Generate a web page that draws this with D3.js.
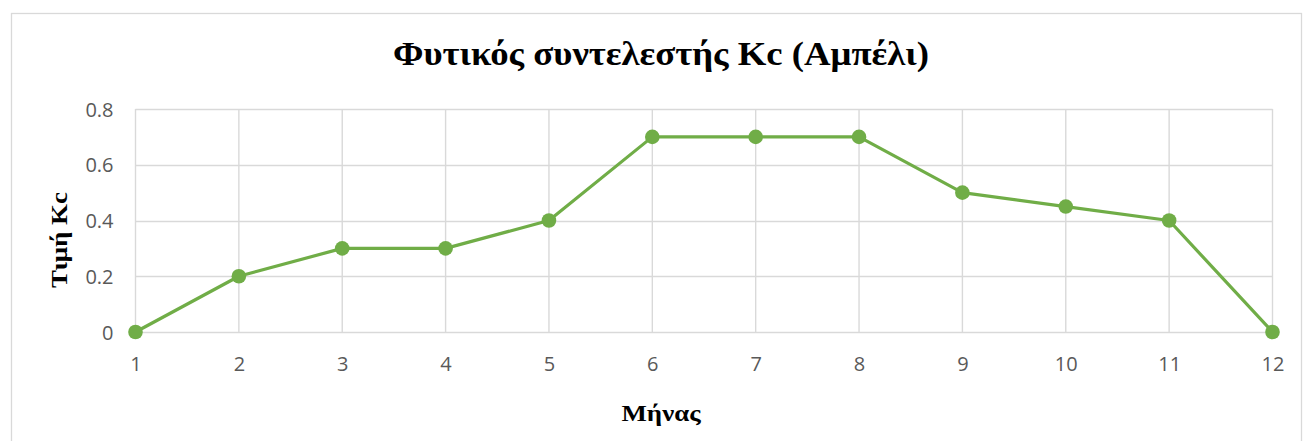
<!DOCTYPE html>
<html><head><meta charset="utf-8">
<script src="https://cdn.jsdelivr.net/npm/d3@7"></script>
<style>body{margin:0;background:#fff}svg{display:block}</style>
</head><body>
<svg id="c" width="1303" height="441"></svg>
<script>
const months = [1,2,3,4,5,6,7,8,9,10,11,12];
const kcValues = [0,0.2,0.3,0.3,0.4,0.7,0.7,0.7,0.5,0.45,0.4,0];
const yTicks = [0,0.2,0.4,0.6,0.8];
const titleText = "Φυτικός συντελεστής Kc (Αμπέλι)";
const xTitle = "Μήνας";
const yTitle = "Τιμή Kc";

const svg = d3.select("#c");
svg.append("rect").attr("x",11.5).attr("y",13.5).attr("width",1290).attr("height",440)
  .attr("fill","#fff").attr("stroke","#d9d9d9").attr("stroke-width",1.3);

const x = d3.scalePoint().domain(months).range([135.5,1272.5]);
const y = d3.scaleLinear().domain([0,0.8]).range([332,109]);

const grid = svg.append("g");
grid.selectAll("line.h").data(yTicks).join("line")
  .attr("x1",135.5).attr("x2",1272.5).attr("y1",d=>Math.round(y(d))+0.5).attr("y2",d=>Math.round(y(d))+0.5)
  .attr("stroke","#d9d9d9").attr("stroke-width",1.4);
grid.selectAll("line.v").data(months).join("line")
  .attr("x1",d=>x(d)).attr("x2",d=>x(d)).attr("y1",109).attr("y2",332)
  .attr("stroke","#d9d9d9").attr("stroke-width",1.4);

const tickFont = "Open Sans, Liberation Sans, sans-serif";
const yAxis = d3.axisLeft(y).tickValues(yTicks).tickSize(0).tickPadding(22).tickFormat(d=>d===0?"0":d3.format(".1f")(d));
const ga = svg.append("g").attr("transform","translate(135.5,0)").call(yAxis);
ga.select(".domain").remove();
ga.selectAll("text").attr("font-family",tickFont).attr("font-size",20).attr("fill","#595959").attr("dy","0.36em");

const xAxis = d3.axisBottom(x).tickSize(0);
const gx = svg.append("g").attr("transform","translate(0,332)").call(xAxis);
gx.select(".domain").remove();
gx.selectAll("text").attr("font-family",tickFont).attr("font-size",20).attr("fill","#595959")
  .attr("y",39).attr("dy",0);

const line = d3.line().x((d,i)=>x(months[i])).y(d=>y(d));
svg.append("path").datum(kcValues).attr("d",line).attr("fill","none")
  .attr("stroke","#70ad47").attr("stroke-width",3.2).attr("stroke-linejoin","round");
svg.selectAll("circle.m").data(kcValues).join("circle")
  .attr("cx",(d,i)=>x(months[i])).attr("cy",d=>y(d)).attr("r",7.3).attr("fill","#70ad47");

const serif = "Liberation Serif, Times New Roman, serif";
svg.append("text").attr("x",661).attr("y",65).attr("text-anchor","middle")
  .attr("font-family",serif).attr("font-weight","bold").attr("font-size",34)
  .attr("textLength",536).attr("lengthAdjust","spacingAndGlyphs")
  .attr("fill","#000").text(titleText);
svg.append("text").attr("x",661).attr("y",421).attr("text-anchor","middle")
  .attr("font-family",serif).attr("font-weight","bold").attr("font-size",24)
  .attr("textLength",79).attr("lengthAdjust","spacingAndGlyphs")
  .attr("fill","#000").text(xTitle);
svg.append("text").attr("transform","translate(67,240) rotate(-90)").attr("text-anchor","middle")
  .attr("font-family",serif).attr("font-weight","bold").attr("font-size",24)
  .attr("textLength",96).attr("lengthAdjust","spacingAndGlyphs")
  .attr("fill","#000").text(yTitle);
</script>
</body></html>
